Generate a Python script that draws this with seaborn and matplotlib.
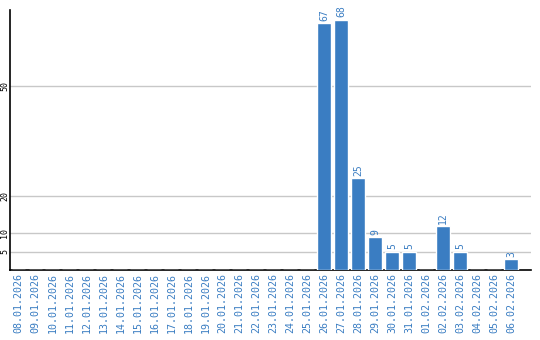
import matplotlib
matplotlib.use("Agg")
import matplotlib.pyplot as plt
import seaborn as sns
import pandas as pd

dates = ["08.01.2026", "09.01.2026", "10.01.2026", "11.01.2026", "12.01.2026",
         "13.01.2026", "14.01.2026", "15.01.2026", "16.01.2026", "17.01.2026",
         "18.01.2026", "19.01.2026", "20.01.2026", "21.01.2026", "22.01.2026",
         "23.01.2026", "24.01.2026", "25.01.2026", "26.01.2026", "27.01.2026",
         "28.01.2026", "29.01.2026", "30.01.2026", "31.01.2026", "01.02.2026",
         "02.02.2026", "03.02.2026", "04.02.2026", "05.02.2026", "06.02.2026"]
counts = [0, 0, 0, 0, 0, 0, 0, 0, 0, 0, 0, 0, 0, 0, 0, 0, 0, 0,
          67, 68, 25, 9, 5, 5, 0, 12, 5, 0, 0, 3]
yticks = [5, 10, 20, 50]

BLUE = "#3a7dc2"
df = pd.DataFrame({"date": dates, "count": counts})

sns.set_style("white")
plt.rcParams['font.family'] = ['DejaVu Sans Mono', 'DejaVu Sans']

fig = plt.figure(figsize=(5.4, 3.4), dpi=100)
ax = fig.add_axes([10/540, 70/340, 521/540, 260/340])

sns.barplot(data=df, x="date", y="count", color=BLUE, saturation=1,
            width=0.82, ax=ax, zorder=3)

for i, v in enumerate(counts):
    if v > 0:
        ax.text(i, v + 0.6, str(v), rotation=90, ha="center", va="bottom",
                color=BLUE, fontsize=7, zorder=4)

ax.set_ylim(0, 70.6)
ax.set_xlim(-0.5, 30.18)
ax.set_yticks(yticks)
ax.set_yticklabels([str(t) for t in yticks], rotation=90, fontsize=6,
                   va="center", ha="center", color="black")
ax.set_xticks(range(len(dates)))
ax.set_xticklabels(dates, rotation=90, fontsize=7.2, color=BLUE)
ax.tick_params(axis="x", length=0, pad=2)
ax.tick_params(axis="y", length=0, pad=4)
ax.yaxis.grid(True, color="#c8c8c8", linewidth=1, zorder=0)
ax.xaxis.grid(False)
ax.set_xlabel("")
ax.set_ylabel("")
for s in ["top", "right"]:
    ax.spines[s].set_visible(False)
for s in ["left", "bottom"]:
    ax.spines[s].set_color("black")
    ax.spines[s].set_linewidth(1.2)

fig.savefig("out.png", dpi=100)
